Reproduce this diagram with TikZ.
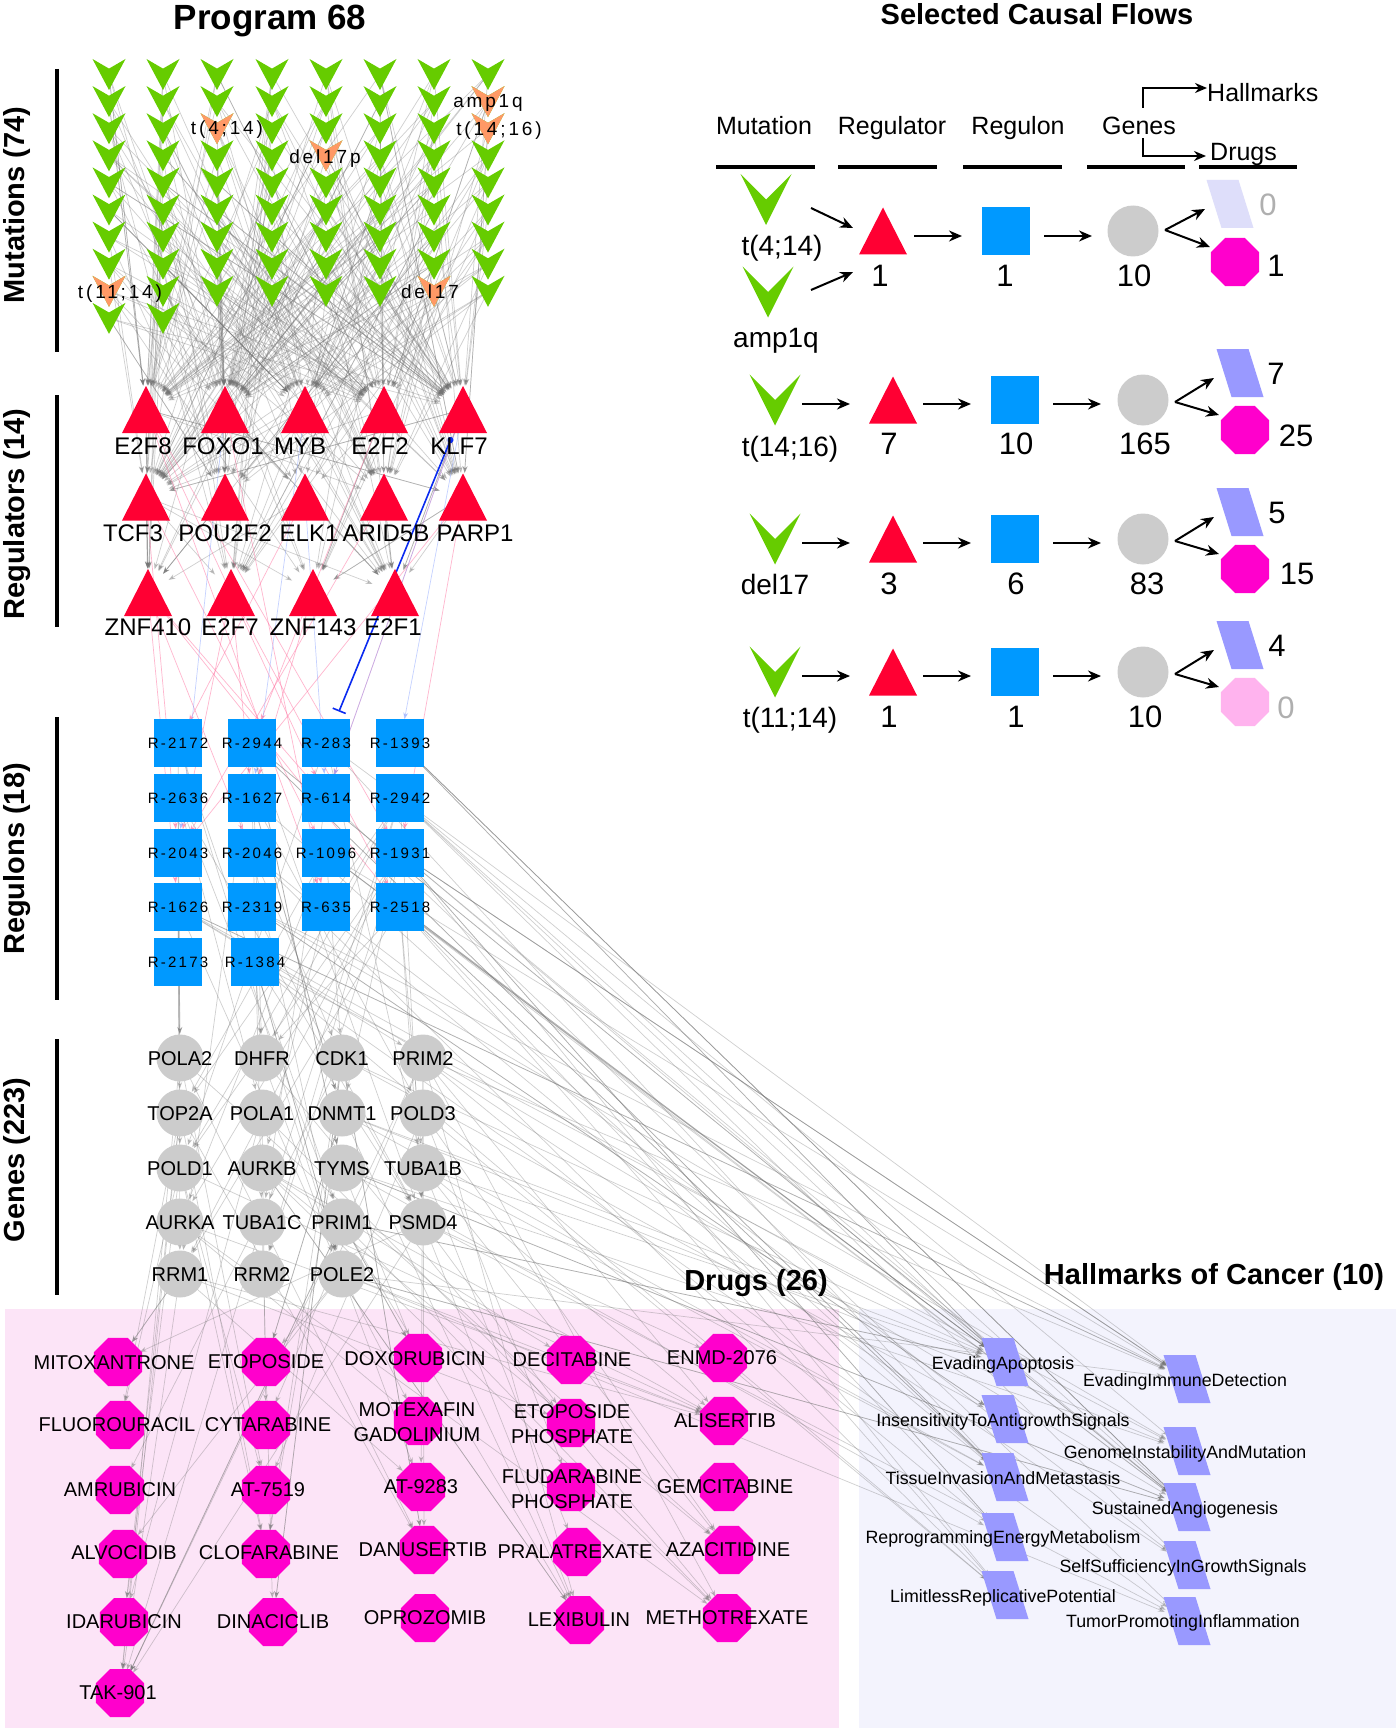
\documentclass[tikz,border=0pt]{standalone}
\usepackage{fontspec}
\setmainfont{Liberation Sans}
\usetikzlibrary{arrows.meta}

\definecolor{mutgreen}{HTML}{66CC00}
\definecolor{mutorange}{HTML}{FF9966}
\definecolor{regred}{HTML}{FF0033}
\definecolor{rgnblue}{HTML}{0099FF}
\definecolor{genegray}{HTML}{CCCCCC}
\definecolor{drugpink}{HTML}{FF00CC}
\definecolor{hmblue}{HTML}{9999FF}
\definecolor{fadehm}{HTML}{DEDEFA}
\definecolor{fadedrug}{HTML}{FFB3EE}
\definecolor{drugbg}{HTML}{FCE4F7}
\definecolor{hmbg}{HTML}{F3F3FD}
\definecolor{edgepink}{HTML}{FF6E9E}
\definecolor{edgeblue}{HTML}{7F9BFF}
\definecolor{inhblue}{HTML}{0A2AF0}
\definecolor{zerogray}{HTML}{AFAFAF}

% node lists: name/x/y/...
\newcommand{\mutcols}{1/109/10, 2/163/10, 3/217/9, 4/272/9, 5/326/9, 6/380/9, 7/434/9, 8/488/9}
\newcommand{\reglist}{r1/146/409.5/E2F8/143/446, r2/225/409.5/FOXO1/223/446, r3/305/409.5/MYB/300/446,
  r4/384/409.5/E2F2/380/446, r5/463/409.5/KLF7/459/446, r6/146/497/TCF3/133/533, r7/225/497/POU2F2/225/533,
  r8/305/497/ELK1/309/533, r9/384/497/ARID5B/386/533, r10/463/497/PARP1/475/533, r11/148/592.5/ZNF410/148/627,
  r12/231/592.5/E2F7/230/627, r13/313/592.5/ZNF143/313/627, r14/395/592.5/E2F1/393/627}
\newcommand{\rgnlist}{rg1/178/743/R-2172, rg2/252/743/R-2944, rg3/326/743/R-283, rg4/400/743/R-1393,
  rg5/178/798/R-2636, rg6/252/798/R-1627, rg7/326/798/R-614, rg8/400/798/R-2942,
  rg9/178/853/R-2043, rg10/252/853/R-2046, rg11/326/853/R-1096, rg12/400/853/R-1931,
  rg13/178/907/R-1626, rg14/252/907/R-2319, rg15/326/907/R-635, rg16/400/907/R-2518,
  rg17/178/962/R-2173, rg18/255/962/R-1384}
\newcommand{\genelist}{g1/180/1058/POLA2, g2/262/1058/DHFR, g3/342/1058/CDK1, g4/423/1058/PRIM2,
  g5/180/1113/TOP2A, g6/262/1113/POLA1, g7/342/1113/DNMT1, g8/423/1113/POLD3,
  g9/180/1168/POLD1, g10/262/1168/AURKB, g11/342/1168/TYMS, g12/423/1168/TUBA1B,
  g13/180/1222/AURKA, g14/262/1222/TUBA1C, g15/342/1222/PRIM1, g16/423/1222/PSMD4,
  g17/180/1274/RRM1, g18/262/1274/RRM2, g19/342/1274/POLE2}
\newcommand{\druglist}{d1/118/1362/114/1363/MITOXANTRONE, d2/120/1425/117/1425/FLUOROURACIL,
  d3/120/1490/120/1490/AMRUBICIN, d4/123/1554/124/1553/ALVOCIDIB, d5/124/1622/124/1622/IDARUBICIN,
  d6/120/1693/118/1693/TAK-901, d7/266/1362/266/1362/ETOPOSIDE, d8/266/1425/268/1425/CYTARABINE,
  d9/266/1490/268/1490/AT-7519, d10/266/1554/269/1553/CLOFARABINE, d11/273/1622/273/1622/DINACICLIB,
  d12/418/1358/415/1359/DOXORUBICIN, d13/418/1421/417/1422/MOTEXAFIN\\GADOLINIUM,
  d14/421/1487/421/1487/AT-9283, d15/424/1550/423/1550/DANUSERTIB, d16/425/1618/425/1618/OPROZOMIB,
  d17/571/1360/572/1360/DECITABINE, d18/571/1423/572/1424/ETOPOSIDE\\PHOSPHATE,
  d19/571/1487/572/1489/FLUDARABINE\\PHOSPHATE, d20/577/1552/575/1552/PRALATREXATE,
  d21/580/1620/579/1620/LEXIBULIN, d22/723/1358/722/1358/ENMD-2076, d23/724/1421/725/1421/ALISERTIB,
  d24/724/1487/725/1487/GEMCITABINE, d25/729/1550/728/1550/AZACITIDINE, d26/727/1618/727/1618/METHOTREXATE}
\newcommand{\hmlist}{h1/1005/1362/1003/1363/EvadingApoptosis, h2/1005/1419/1003/1420/InsensitivityToAntigrowthSignals,
  h3/1005/1477/1003/1478/TissueInvasionAndMetastasis, h4/1005/1537/1003/1537/ReprogrammingEnergyMetabolism,
  h5/1005/1595/1003/1596/LimitlessReplicativePotential, h6/1187/1379/1185/1380/EvadingImmuneDetection,
  h7/1187/1451/1185/1452/GenomeInstabilityAndMutation, h8/1187/1507/1185/1508/SustainedAngiogenesis,
  h9/1187/1565/1183/1566/SelfSufficiencyInGrowthSignals, h10/1187/1621/1183/1621/TumorPromotingInflammation}

\tikzset{
        % Labels (text height = cap height of the size used)
        lab_base/.style={inner sep=0pt, text depth=0pt},
        lab_mut/.style={lab_base, text height=13.6pt, font=\fontsize{19}{19}\selectfont\addfontfeature{LetterSpace=15}},
        lab_reg/.style={lab_base, text height=17.2pt, font=\fontsize{24}{24}\selectfont},
        lab_rgn/.style={lab_base, text height=10.7pt, font=\fontsize{15}{15}\selectfont\addfontfeature{LetterSpace=15}},
        lab_gene/.style={lab_base, text height=14.3pt, font=\fontsize{20}{20}\selectfont},
        lab_drug/.style={inner sep=0pt, align=center, font=\fontsize{20}{25}\selectfont},
        lab_hm/.style={lab_base, text height=12.7pt, font=\fontsize{17.8}{17.8}\selectfont},
        lab_title/.style={lab_base, text height=20.8pt, font=\fontsize{29}{29}\selectfont\bfseries},
        lab_side/.style={lab_title, rotate=90},
        lab_head/.style={lab_base, text height=17.9pt, font=\fontsize{25}{25}\selectfont},
        lab_flow/.style={lab_base, text height=20pt, font=\fontsize{28}{28}\selectfont},
        lab_num/.style={lab_base, text height=22.2pt, font=\fontsize{31}{31}\selectfont},
        % Rules
        side_rule/.style={line width=3.5pt},
        hdr_rule/.style={line width=3.5pt},
        % Network edges
        edge_net/.style={draw=black!55, opacity=0.34, line width=0.7pt, shorten >=24pt,
                         -{Stealth[length=7pt,width=5pt]}},
        edge_pink/.style={edge_net, draw=edgepink, opacity=0.5},
        edge_blue/.style={edge_net, draw=edgeblue, opacity=0.45},
        edge_inhibit/.style={draw=inhblue, line width=1.6pt,
                         {Circle[length=6pt]}-{Bar[width=14pt,line width=1.6pt]}},
        % Flow arrows
        flow_arrow/.style={line width=2pt, -{Stealth[length=13pt,width=11pt]}},
        flow_elbow/.style={line width=2.5pt, -{Stealth[length=12pt,width=10pt]}},
        % Glyphs
        pic_chevron/.pic={\fill[#1] (-16.5,-15.5) -- (0,-5.9) -- (16.5,-15.5) -- (0,15.5) -- cycle;},
        pic_bigchev/.pic={\fill[#1] (-25.5,-25.5) -- (0,0) -- (25.5,-25.5) -- (0,25.5) -- cycle;},
        pic_triangle/.pic={\fill[#1] (-24,23.5) -- (0,-23.5) -- (24,23.5) -- cycle;},
        pic_square/.pic={\fill[#1] (-24,-24) rectangle (24,24);},
        pic_octagon/.pic={\fill[#1] (22.5:26) \foreach \ang in {67.5,112.5,...,337.5} {-- (\ang:26)} -- cycle;},
        pic_para/.pic={\fill[#1] (-23.5,-24) -- (8.5,-24) -- (23.5,24) -- (-8.5,24) -- cycle;}
}

\begin{document}
\begin{tikzpicture}[x=1pt, y=-1pt]
  % page and panels
  \fill[white] (0,0) rectangle (1396,1728);
  \useasboundingbox (0,0) rectangle (1396,1728);
  \fill[drugbg] (5,1309) rectangle (839,1728);
  \fill[hmbg] (859,1309) rectangle (1396,1728);

  % node positions
  \foreach \col/\x/\n in \mutcols
    \foreach \row in {1,...,\n}
      \coordinate (m-\col-\row) at (\x,{74.5+27.1*(\row-1)});
  \foreach \n/\x/\y/\txt/\lx/\ly in \reglist \coordinate (\n) at (\x,\y);
  \foreach \n/\x/\y/\txt in \rgnlist \coordinate (\n) at (\x,\y);
  \foreach \n/\x/\y/\txt in \genelist \coordinate (\n) at (\x,\y);
  \foreach \n/\x/\y/\lx/\ly/\txt in \druglist \coordinate (\n) at (\x,\y);
  \foreach \n/\x/\y/\lx/\ly/\txt in \hmlist \coordinate (\n) at (\x,\y);

  % edges of the network
  \pgfmathsetseed{4711}
  \foreach \col/\x/\n in \mutcols {
    \foreach \row in {1,...,\n} {
      \pgfmathrandominteger{\tgta}{1}{5}
      \pgfmathrandominteger{\tgtb}{1}{14}
      \pgfmathrandominteger{\tgtc}{1}{10}
      \pgfmathrandominteger{\tgtd}{1}{14}
      \draw[edge_net] (m-\col-\row) -- (r\tgta);
      \draw[edge_net] (m-\col-\row) -- (r\tgtb);
      \draw[edge_net] (m-\col-\row) -- (r\tgtc);
      \draw[edge_net] (m-\col-\row) -- (r\tgtd);
    }
  }
  \foreach \i in {1,...,20} {
    \pgfmathrandominteger{\src}{1}{5}
    \pgfmathrandominteger{\tgt}{6}{14}
    \draw[edge_net] (r\src) -- (r\tgt);
  }
  \foreach \i in {1,...,14} {
    \pgfmathrandominteger{\src}{6}{10}
    \pgfmathrandominteger{\tgt}{11}{14}
    \draw[edge_net] (r\src) -- (r\tgt);
  }
  \foreach \i in {1,...,20} {
    \pgfmathrandominteger{\src}{1}{14}
    \pgfmathrandominteger{\tgt}{1}{16}
    \draw[edge_pink] (r\src) -- (rg\tgt);
  }
  \foreach \i in {1,...,5} {
    \pgfmathrandominteger{\src}{1}{14}
    \pgfmathrandominteger{\tgt}{1}{12}
    \draw[edge_blue] (r\src) -- (rg\tgt);
  }
  \foreach \i in {1,...,50} {
    \pgfmathrandominteger{\src}{1}{18}
    \pgfmathrandominteger{\tgt}{1}{19}
    \draw[edge_net] (rg\src) -- (g\tgt);
  }
  \foreach \i in {1,...,50} {
    \pgfmathrandominteger{\k}{0}{17}
    \pgfmathtruncatemacro{\src}{{4,4,8,8,12,12,16,16,3,7,11,15,14,10,6,2,18,13}[\k]}
    \pgfmathrandominteger{\k}{0}{23}
    \pgfmathtruncatemacro{\tgt}{{1,1,1,1,1,6,6,6,6,6,8,8,8,8,7,7,3,3,4,4,2,9,10,5}[\k]}
    \draw[edge_net] (rg\src) -- (h\tgt);
  }
  \foreach \i in {1,...,75} {
    \pgfmathrandominteger{\src}{1}{19}
    \pgfmathrandominteger{\tgt}{1}{26}
    \draw[edge_net] (g\src) -- (d\tgt);
  }
  \foreach \i in {1,...,22} {
    \pgfmathrandominteger{\k}{0}{8}
    \pgfmathtruncatemacro{\src}{{4,8,12,16,3,7,11,15,19}[\k]}
    \pgfmathrandominteger{\k}{0}{23}
    \pgfmathtruncatemacro{\tgt}{{1,1,1,1,1,6,6,6,6,6,8,8,8,8,7,7,3,3,4,4,2,9,10,5}[\k]}
    \draw[edge_net] (g\src) -- (h\tgt);
  }
  \draw[edge_inhibit, shorten <=30pt, shorten >=34pt] (r5) -- (rg3);

  % mutations
  \foreach \col/\x/\n in \mutcols
    \foreach \row in {1,...,\n}
      \pic at (m-\col-\row) {pic_chevron=mutgreen};
  \foreach \p in {m-1-9, m-3-3, m-5-4, m-7-9, m-8-2, m-8-3}
    \pic at (\p) {pic_chevron=mutorange};
  \node[lab_mut] (lab-t414) at (227,128) {t(4;14)};
  \node[lab_mut] (lab-del17p) at (325,157) {del17p};
  \node[lab_mut] (lab-amp1q) at (488,101) {amp1q};
  \node[lab_mut] (lab-t1416) at (499,129) {t(14;16)};
  \node[lab_mut] (lab-t1114) at (120,292) {t(11;14)};
  \node[lab_mut] (lab-del17) at (430,292) {del17};

  % regulators, regulons, genes
  \foreach \n/\x/\y/\txt/\lx/\ly in \reglist {
    \pic at (\n) {pic_triangle=regred};
    \node[lab_reg] (\n-lab) at (\lx,\ly) {\txt};
  }
  \foreach \n/\x/\y/\txt in \rgnlist {
    \pic at (\n) {pic_square=rgnblue};
    \node[lab_rgn] (\n-lab) at (\n) {\txt};
  }
  \foreach \n/\x/\y/\txt in \genelist {
    \fill[genegray] (\n) circle [radius=23.5pt];
    \node[lab_gene] (\n-lab) at (\n) {\txt};
  }

  % drugs and hallmarks
  \foreach \n/\x/\y/\lx/\ly/\txt in \druglist {
    \pic at (\n) {pic_octagon=drugpink};
    \node[lab_drug] (\n-lab) at (\lx,\ly) {\txt};
  }
  \foreach \n/\x/\y/\lx/\ly/\txt in \hmlist {
    \pic at (\n) {pic_para=hmblue};
    \node[lab_hm] (\n-lab) at (\lx,\ly) {\txt};
  }

  % titles and layer bars
  \node[lab_title, text height=25.1pt, font=\fontsize{35}{35}\selectfont\bfseries] (title-prog) at (270,17) {Program 68};
  \node[lab_side] (side-mut) at (14,205) {Mutations (74)};
  \node[lab_side] (side-reg) at (14,514) {Regulators (14)};
  \node[lab_side] (side-rgn) at (14,859) {Regulons (18)};
  \node[lab_side] (side-gene) at (14,1160) {Genes (223)};
  \draw[side_rule] (57,69) -- (57,352);
  \draw[side_rule] (57,395) -- (57,627);
  \draw[side_rule] (57,717) -- (57,1000);
  \draw[side_rule] (57,1039) -- (57,1295);
  \node[lab_title] (title-drugs) at (756,1280) {Drugs (26)};
  \node[lab_title] (title-hm) at (1214,1274) {Hallmarks of Cancer (10)};

  % selected causal flows
  \node[lab_title] (title-flow) at (1037,14) {Selected Causal Flows};
  \node[lab_head] (hdr-mut) at (764,126) {Mutation};
  \node[lab_head] (hdr-reg) at (892,126) {Regulator};
  \node[lab_head] (hdr-rgn) at (1018,126) {Regulon};
  \node[lab_head] (hdr-genes) at (1139,126) {Genes};
  \node[lab_head, anchor=west] (hdr-hall) at (1207,93) {Hallmarks};
  \node[lab_head, anchor=west] (hdr-drugs) at (1210,152) {Drugs};
  \foreach \xa/\xb in {716/815, 838/937, 963/1062, 1087/1185, 1199/1297}
    \draw[hdr_rule] (\xa,167) -- (\xb,167);
  \draw[flow_elbow, shorten <=9pt] ([xshift=4pt]hdr-genes.north) |- ([yshift=5pt]hdr-hall.west);
  \draw[flow_elbow, shorten <=3pt] ([xshift=4pt]hdr-genes.south) |- ([yshift=-4pt,xshift=-4pt]hdr-drugs.west);

  % flow 1
  \coordinate (s1-mut-a) at (766,199.5);
  \coordinate (s1-mut-b) at (768,292);
  \coordinate (s1-reg) at (883,231);
  \coordinate (s1-rgn) at (1006,231);
  \coordinate (s1-gen) at (1133,231);
  \coordinate (s1-hm) at (1230,204);
  \coordinate (s1-drg) at (1235,262);
  \coordinate (s1-out-a) at (811,208);
  \coordinate (s1-in-a) at (853,228);
  \coordinate (s1-out-b) at (811,290);
  \coordinate (s1-in-b) at (853,272);
  \coordinate (s1-fork) at (1165,230);
  \coordinate (s1-hm-in) at (1205,209);
  \coordinate (s1-drg-in) at (1210,247);
  \pic at (s1-mut-a) {pic_bigchev=mutgreen};
  \pic at (s1-mut-b) {pic_bigchev=mutgreen};
  \pic at (s1-reg) {pic_triangle=regred};
  \pic at (s1-rgn) {pic_square=rgnblue};
  \fill[genegray] (s1-gen) circle [radius=25.5pt];
  \pic at (s1-hm) {pic_para=fadehm};
  \pic at (s1-drg) {pic_octagon=drugpink};
  \draw[flow_arrow] (s1-out-a) -- (s1-in-a);
  \draw[flow_arrow] (s1-out-b) -- (s1-in-b);
  \draw[flow_arrow, shorten <=31pt, shorten >=44pt] ([yshift=-5pt]s1-reg) -- ([yshift=-5pt]s1-rgn);
  \draw[flow_arrow, shorten <=38pt, shorten >=41pt] ([yshift=-5pt]s1-rgn) -- ([yshift=-5pt]s1-gen);
  \draw[flow_arrow] (s1-fork) -- (s1-hm-in);
  \draw[flow_arrow] (s1-fork) -- (s1-drg-in);
  \node[lab_flow] (s1-mut-a-lab) at (782,245) {t(4;14)};
  \node[lab_flow] (s1-mut-b-lab) at (776,337) {amp1q};
  \node[lab_num] (s1-reg-lab) at (880,275) {1};
  \node[lab_num] (s1-rgn-lab) at (1005,275) {1};
  \node[lab_num] (s1-gen-lab) at (1134,275) {10};
  \node[lab_num, text=zerogray] (s1-hm-lab) at (1268,204) {0};
  \node[lab_num] (s1-drg-lab) at (1276,265) {1};

  % flows 2 to 4
  \foreach \s/\y/\hc/\dc in {2/400/hmblue/drugpink, 3/539/hmblue/drugpink, 4/672/hmblue/fadedrug} {
    \coordinate (s\s-mut) at (775,\y);
    \coordinate (s\s-reg) at (893,\y);
    \coordinate (s\s-rgn) at (1015,\y);
    \coordinate (s\s-gen) at (1143,\y);
    \coordinate (s\s-hm) at (1240,{\y-27});
    \coordinate (s\s-drg) at (1245,{\y+30});
    \coordinate (s\s-fork) at (1175,{\y+2});
    \coordinate (s\s-hm-in) at (1214,{\y-22});
    \coordinate (s\s-drg-in) at (1219,{\y+15});
    \pic at (s\s-mut) {pic_bigchev=mutgreen};
    \pic at (s\s-reg) {pic_triangle=regred};
    \pic at (s\s-rgn) {pic_square=rgnblue};
    \fill[genegray] (s\s-gen) circle [radius=25.5pt];
    \pic at (s\s-hm) {pic_para=\hc};
    \pic at (s\s-drg) {pic_octagon=\dc};
    \draw[flow_arrow, shorten <=27pt, shorten >=43pt] ([yshift=-4pt]s\s-mut) -- ([yshift=-4pt]s\s-reg);
    \draw[flow_arrow, shorten <=30pt, shorten >=44pt] ([yshift=-4pt]s\s-reg) -- ([yshift=-4pt]s\s-rgn);
    \draw[flow_arrow, shorten <=38pt, shorten >=42pt] ([yshift=-4pt]s\s-rgn) -- ([yshift=-4pt]s\s-gen);
    \draw[flow_arrow] (s\s-fork) -- (s\s-hm-in);
    \draw[flow_arrow] (s\s-fork) -- (s\s-drg-in);
  }
  \node[lab_flow] (s2-mut-lab) at (790,446) {t(14;16)};
  \node[lab_num] (s2-reg-lab) at (889,443) {7};
  \node[lab_num] (s2-rgn-lab) at (1016,443) {10};
  \node[lab_num] (s2-gen-lab) at (1145,443) {165};
  \node[lab_num] (s2-hm-lab) at (1276,373) {7};
  \node[lab_num] (s2-drg-lab) at (1296,435) {25};
  \node[lab_flow] (s3-mut-lab) at (775,584) {del17};
  \node[lab_num] (s3-reg-lab) at (889,583) {3};
  \node[lab_num] (s3-rgn-lab) at (1016,583) {6};
  \node[lab_num] (s3-gen-lab) at (1147,583) {83};
  \node[lab_num] (s3-hm-lab) at (1277,512) {5};
  \node[lab_num] (s3-drg-lab) at (1297,573) {15};
  \node[lab_flow] (s4-mut-lab) at (790,717) {t(11;14)};
  \node[lab_num] (s4-reg-lab) at (889,716) {1};
  \node[lab_num] (s4-rgn-lab) at (1016,716) {1};
  \node[lab_num] (s4-gen-lab) at (1145,716) {10};
  \node[lab_num] (s4-hm-lab) at (1277,645) {4};
  \node[lab_num, text=zerogray] (s4-drg-lab) at (1286,707) {0};
\end{tikzpicture}
\end{document}
